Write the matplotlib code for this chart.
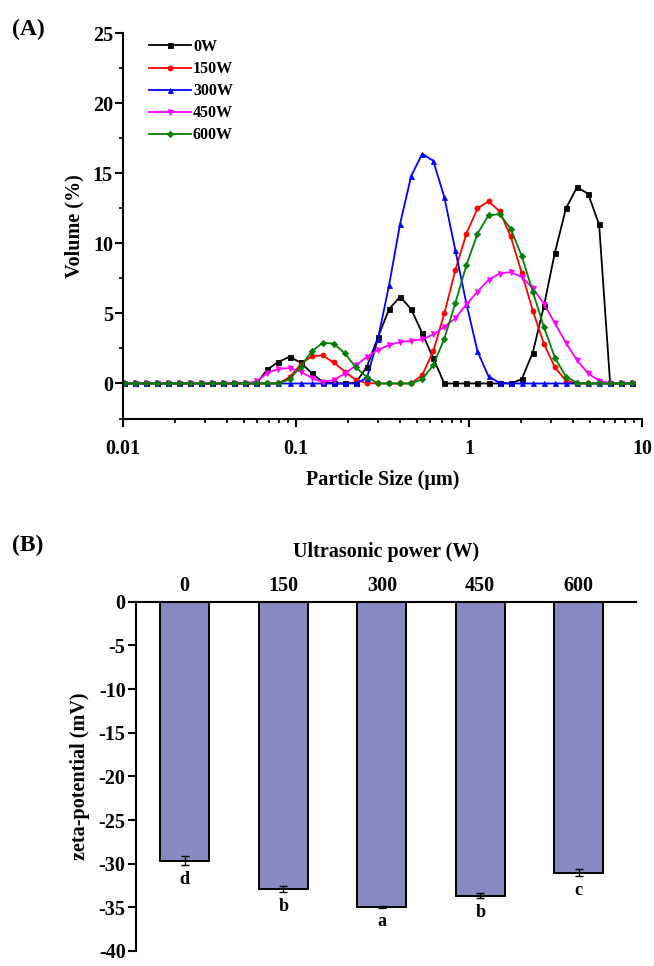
import matplotlib
matplotlib.use('Agg')
import matplotlib.pyplot as plt
from matplotlib.ticker import MultipleLocator, LogLocator, NullFormatter, FixedLocator, FixedFormatter

plt.rcParams['font.family'] = ['Liberation Serif', 'DejaVu Serif']
plt.rcParams['font.weight'] = 'bold'
plt.rcParams['axes.unicode_minus'] = False

# ---------------- Data: particle size distribution ----------------
sizes = [0.01013, 0.01174, 0.01360, 0.01576, 0.01825, 0.02114, 0.02449, 0.02837,
         0.03287, 0.03807, 0.04411, 0.05109, 0.05919, 0.06857, 0.07943, 0.09200,
         0.1066, 0.1235, 0.1430, 0.1657, 0.1919, 0.2223, 0.2576, 0.2984,
         0.3456, 0.4004, 0.4638, 0.5373, 0.6223, 0.7211, 0.8353, 0.9676,
         1.121, 1.298, 1.504, 1.743, 2.019, 2.339, 2.709, 3.139,
         3.636, 4.211, 4.879, 5.652, 6.546, 7.585, 8.786]

vol_0W = [0]*13 + [1.0, 1.55, 1.9, 1.5, 0.75, 0.1, 0, 0, 0.05, 1.2, 3.3, 5.3, 6.2,
                   5.3, 3.6, 1.8, 0, 0, 0, 0, 0, 0, 0, 0.3, 2.2, 5.5, 9.35,
                   12.5, 14.0, 13.55, 11.35, 0, 0, 0]
vol_150W = [0]*15 + [0.45, 1.35, 1.95, 2.0, 1.5, 0.85, 0.25, 0.02, 0, 0, 0, 0,
                     0.6, 2.3, 5.0, 8.1, 10.7, 12.5, 13.0, 12.3, 10.5, 7.9, 5.2,
                     2.85, 1.15, 0.2, 0, 0, 0, 0, 0, 0]
vol_300W = [0]*22 + [0.4, 3.2, 7.0, 11.4, 14.8, 16.4, 15.9, 13.3, 9.5, 5.7, 2.3,
                     0.5, 0.05, 0, 0, 0, 0, 0, 0, 0, 0, 0, 0, 0, 0]
vol_450W = [0]*12 + [0.15, 0.75, 1.05, 1.1, 0.85, 0.4, 0.1, 0.25, 0.7, 1.3, 1.9,
                     2.4, 2.75, 2.95, 3.05, 3.15, 3.5, 4.05, 4.65, 5.65, 6.55, 7.4,
                     7.85, 7.95, 7.6, 6.8, 5.7, 4.3, 2.9, 1.65, 0.72, 0.2, 0.02,
                     0, 0]
vol_600W = [0]*15 + [0.3, 1.2, 2.3, 2.9, 2.85, 2.15, 1.15, 0.45, 0, 0, 0, 0,
                     0.3, 1.3, 3.2, 5.75, 8.45, 10.7, 12.0, 12.1, 11.05, 9.1, 6.55,
                     4.05, 1.85, 0.48, 0.05, 0, 0, 0, 0, 0]

series_labels = ['0W', '150W', '300W', '450W', '600W']
series_values = [vol_0W, vol_150W, vol_300W, vol_450W, vol_600W]
series_colors = ['#000000', '#ff0000', '#0000ff', '#ff00ff', '#008000']
series_markers = ['s', 'o', '^', 'v', 'D']

# ---------------- Data: zeta potential ----------------
powers = ['0', '150', '300', '450', '600']
zeta = [-29.67, -32.9, -34.97, -33.67, -31.05]
zeta_err = [0.5, 0.4, 0.1, 0.3, 0.4]
letters = ['d', 'b', 'a', 'b', 'c']

W, H = 654, 966
fig = plt.figure(figsize=(W/100, H/100), dpi=100)

# ---------------- Panel A ----------------
ax1 = fig.add_axes([122.7/W, 1-418.5/H, (642-122.7)/W, (418.5-33.3)/H])
for lab, vals, col, mk in zip(series_labels, series_values, series_colors, series_markers):
    ms = 3.6 if mk != 'D' else 3.2
    ax1.plot(sizes, vals, color=col, marker=mk, markersize=ms, linewidth=1.3,
             label=lab, markeredgewidth=0.6)
ax1.set_xscale('log')
ax1.set_xlim(0.01, 10)
ax1.set_ylim(-2.5, 25)
ax1.spines['top'].set_visible(False)
ax1.spines['right'].set_visible(False)
for s in ['left', 'bottom']:
    ax1.spines[s].set_linewidth(1.5)
ax1.xaxis.set_major_locator(FixedLocator([0.01, 0.1, 1, 10]))
ax1.xaxis.set_major_formatter(FixedFormatter(['0.01', '0.1', '1', '10']))
ax1.xaxis.set_minor_locator(LogLocator(base=10, subs=range(2, 10)))
ax1.xaxis.set_minor_formatter(NullFormatter())
ax1.yaxis.set_major_locator(MultipleLocator(5))
ax1.yaxis.set_minor_locator(MultipleLocator(2.5))
ax1.tick_params(axis='both', which='major', direction='out', length=5.5, width=1.5,
                labelsize=14.5)
ax1.tick_params(axis='both', which='minor', direction='out', length=3, width=1.2)
ax1.tick_params(axis='x', which='major', pad=9)
ax1.tick_params(axis='y', which='major', pad=1.5)
ax1.set_xlabel('Particle Size (μm)', fontsize=14.5, fontweight='bold', labelpad=8)
ax1.set_ylabel('Volume (%)', fontsize=14.5, fontweight='bold', labelpad=6)
leg = ax1.legend(loc='upper left', bbox_to_anchor=(0.0506, 0.985), frameon=False,
                 prop={'size': 11.5, 'weight': 'bold'}, handlelength=2.6,
                 handletextpad=0.15, labelspacing=0.38, borderpad=0, borderaxespad=0)

fig.text(12/W, 1-29/H, '(A)', fontsize=17, fontweight='bold', va='center', ha='left')

# ---------------- Panel B ----------------
ax2 = fig.add_axes([136/W, 1-951/H, 500/W, (951-601.7)/H])
pos = list(range(len(powers)))
ax2.bar(pos, zeta, width=0.495, color='#8989c2', edgecolor='black', linewidth=1.4,
        yerr=zeta_err, capsize=3, error_kw=dict(elinewidth=1, capthick=1, ecolor='black'))
for p, v, e, l in zip(pos, zeta, zeta_err, letters):
    ax2.text(p, v - e - 1.6, l, ha='center', va='center', fontsize=13, fontweight='bold')
ax2.set_xlim(-0.494, 4.58)
ax2.set_ylim(-40, 0)
ax2.spines['bottom'].set_visible(False)
ax2.spines['right'].set_visible(False)
for s in ['left', 'top']:
    ax2.spines[s].set_linewidth(1.5)
ax2.xaxis.tick_top()
ax2.xaxis.set_label_position('top')
ax2.set_xticks(pos)
ax2.set_xticklabels(powers)
ax2.yaxis.set_major_locator(MultipleLocator(5))
ax2.tick_params(axis='x', length=0, pad=4, labelsize=14.5)
ax2.tick_params(axis='y', direction='out', length=6, width=1.5, pad=1.5, labelsize=14.5)
ax2.set_xlabel('Ultrasonic power (W)', fontsize=14.5, fontweight='bold', labelpad=14)
ax2.set_ylabel('zeta-potential (mV)', fontsize=14.5, fontweight='bold', labelpad=6)

fig.text(12/W, 1-545/H, '(B)', fontsize=17, fontweight='bold', va='center', ha='left')

fig.savefig('out.png', dpi=100)
